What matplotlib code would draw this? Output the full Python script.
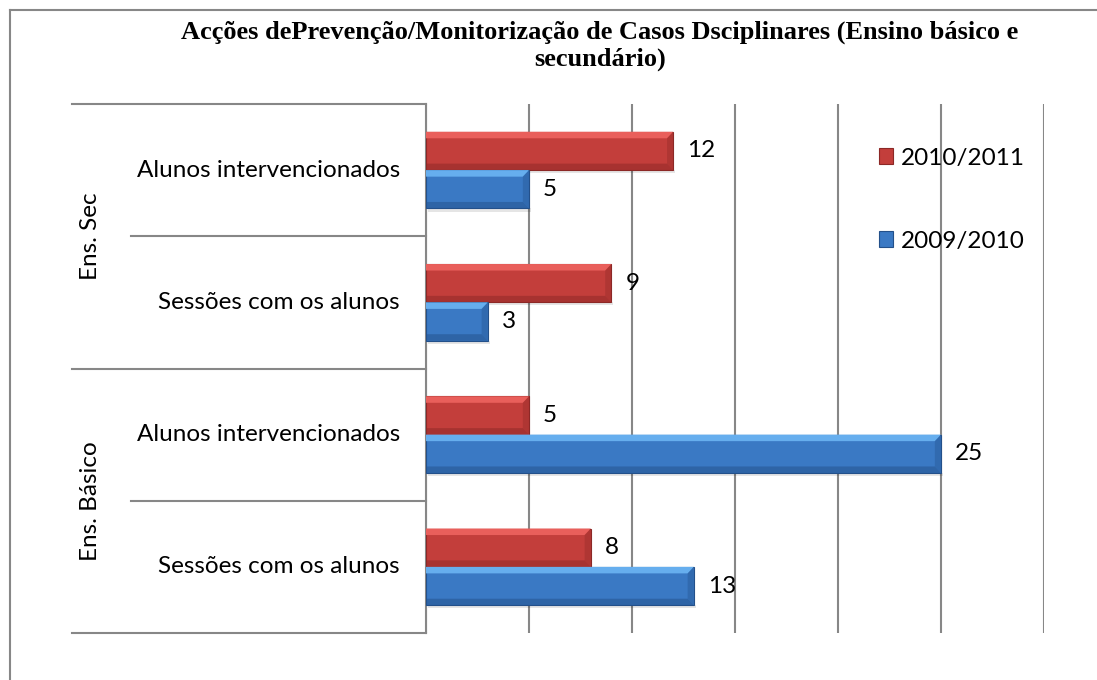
import matplotlib
matplotlib.use("Agg")
import matplotlib.pyplot as plt
from matplotlib.patches import Rectangle, Polygon
from matplotlib.lines import Line2D

# ---- data ----
title = "Acções dePrevenção/Monitorização de Casos Dsciplinares (Ensino básico e\nsecundário)"
categories = ["Alunos intervencionados", "Sessões com os alunos",
              "Alunos intervencionados", "Sessões com os alunos"]
groups = ["Ens. Sec", "Ens. Básico"]
series_names = ["2010/2011", "2009/2010"]
values_2010_2011 = [12, 9, 5, 8]
values_2009_2010 = [5, 3, 25, 13]
xticks = [0, 5, 10, 15, 20, 25, 30]

W, H = 1097, 680
fig = plt.figure(figsize=(W / 100, H / 100), dpi=100)
fig.patch.set_facecolor("white")

# outer chart frame (left and top edges visible)
fig.add_artist(Line2D([10 / W, 10 / W], [0, 1 - 10 / H], color="#878787", lw=1.5))
fig.add_artist(Line2D([10 / W, 1], [1 - 10 / H, 1 - 10 / H], color="#878787", lw=1.5))

ax_l, ax_r, ax_t, ax_b = 426, 1044, 104, 633
ax = fig.add_axes([ax_l / W, 1 - ax_b / H, (ax_r - ax_l) / W, (ax_b - ax_t) / H])

FONT = "Lato"
FS = 17.5
grid_col = "#878787"

ypos = list(range(len(categories)))
bh = 0.29
red_main, red_light, red_dark = "#C33E3B", "#E95F5B", "#8C2826"
blue_main, blue_light, blue_dark = "#3A79C4", "#66AEEE", "#23508A"

bars_red = ax.barh([y - bh / 2 for y in ypos], values_2010_2011, height=bh,
                   color=red_main, edgecolor=red_dark, linewidth=0.8, zorder=3,
                   label=series_names[0])
bars_blue = ax.barh([y + bh / 2 for y in ypos], values_2009_2010, height=bh,
                    color=blue_main, edgecolor=blue_dark, linewidth=0.8, zorder=3,
                    label=series_names[1])

# bevel overlays derived from bar geometry
def bevel(bar, light, dark):
    x0, y0 = bar.get_x(), bar.get_y()
    w, h = bar.get_width(), bar.get_height()
    bx = 0.3
    by = h * 0.17
    top = y0  # visual top (axis inverted)
    bot = y0 + h
    ax.add_patch(Polygon([[x0, top], [x0 + w, top], [x0 + w - bx, top + by], [x0, top + by]],
                         closed=True, facecolor=light, edgecolor="none", zorder=4))
    ax.add_patch(Polygon([[x0, bot], [x0 + w, bot], [x0 + w - bx, bot - by], [x0, bot - by]],
                         closed=True, facecolor=dark, edgecolor="none", alpha=0.5, zorder=4))
    ax.add_patch(Polygon([[x0 + w, top], [x0 + w, bot], [x0 + w - bx, bot - by], [x0 + w - bx, top + by]],
                         closed=True, facecolor=dark, edgecolor="none", alpha=0.35, zorder=4))
    ax.add_patch(Rectangle((x0 + 0.1, bot), w, h * 0.08, facecolor="#000000", alpha=0.10,
                           edgecolor="none", zorder=2))

for b in bars_red:
    bevel(b, red_light, red_dark)
for b in bars_blue:
    bevel(b, blue_light, blue_dark)

ax.set_xlim(0, 30)
ax.set_ylim(len(categories) - 0.5, -0.5)
ax.set_xticks(xticks)
ax.set_xticklabels([])
ax.tick_params(axis="x", length=0)
ax.set_yticks([])
ax.grid(axis="x", color=grid_col, lw=1.5, zorder=0)
for s in ["top", "right", "bottom"]:
    ax.spines[s].set_visible(False)
ax.spines["left"].set_color(grid_col)
ax.spines["left"].set_linewidth(1.5)

# value labels
for b, v in zip(bars_red, values_2010_2011):
    ax.annotate(str(v), (b.get_width(), b.get_y() + b.get_height() / 2),
                xytext=(10, 0), textcoords="offset points", va="center", ha="left",
                fontsize=FS, family=FONT, zorder=6)
for b, v in zip(bars_blue, values_2009_2010):
    ax.annotate(str(v), (b.get_width(), b.get_y() + b.get_height() / 2),
                xytext=(10, 0), textcoords="offset points", va="center", ha="left",
                fontsize=FS, family=FONT, zorder=6)

# category labels and group axis
trans = ax.get_yaxis_transform()
for y, c in zip(ypos, categories):
    ax.text(-26 / (ax_r - ax_l), y, c, transform=trans, ha="right", va="center",
            fontsize=FS, family=FONT)
full_x = (72 - ax_l) / (ax_r - ax_l)
half_x = (131 - ax_l) / (ax_r - ax_l)
for yb in [-0.5, 1.5, 3.5]:
    ax.plot([full_x, 0], [yb, yb], transform=trans, color=grid_col, lw=1.5, clip_on=False)
for yb in [0.5, 2.5]:
    ax.plot([half_x, 0], [yb, yb], transform=trans, color=grid_col, lw=1.5, clip_on=False)
for gi, g in enumerate(groups):
    ax.text((91 - ax_l) / (ax_r - ax_l), gi * 2 + 0.5, g, transform=trans, rotation=90,
            ha="center", va="center", fontsize=FS, family=FONT)

# legend
leg = fig.legend(handles=[bars_red, bars_blue], labels=series_names,
                 loc="upper left", bbox_to_anchor=(869 / W, 1 - 138 / H),
                 frameon=False, prop={"family": FONT, "size": FS},
                 handlelength=0.6, handleheight=0.6, handletextpad=0.3,
                 labelspacing=2.55, borderaxespad=0)

fig.text(600 / W, 1 - 21 / H, title, ha="center", va="top", fontsize=19,
         family="Liberation Serif", weight="bold", linespacing=1.15)

fig.savefig("out.png", dpi=100)
